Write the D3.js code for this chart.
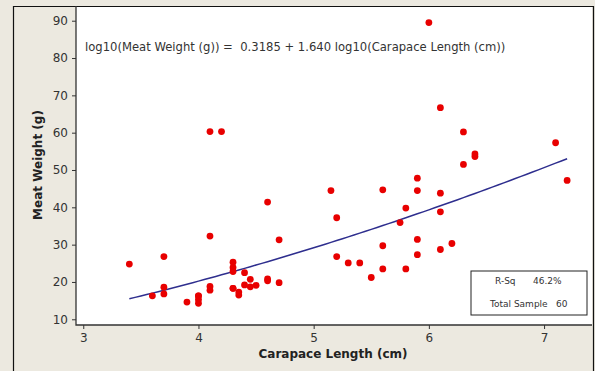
<!DOCTYPE html>
<head>
  <meta charset="utf-8">
  <script src="https://d3js.org/d3.v7.min.js"></script>
  <style>
    body { margin:0; background:#fff; }
    svg { display:block; }
    text { font-family: "DejaVu Sans", sans-serif; }
  </style>
</head>
<body>
<div id="chart"></div>
<script>

// carapace length (cm) and meat weight (g)
var lengths = [3.4, 3.6, 3.7, 3.7, 3.7, 3.9, 4.0, 4.0, 4.0, 4.1,
               4.1, 4.1, 4.1, 4.2, 4.3, 4.3, 4.3, 4.3, 4.35, 4.35,
               4.4, 4.4, 4.45, 4.45, 4.5, 4.6, 4.6, 4.6, 4.7, 4.7,
               5.15, 5.2, 5.2, 5.3, 5.4, 5.5, 5.6, 5.6, 5.6, 5.75,
               5.8, 5.8, 5.9, 5.9, 5.9, 5.9, 6.0, 6.1, 6.1, 6.1,
               6.1, 6.2, 6.3, 6.3, 6.4, 6.4, 7.1, 7.2, 4.0, 4.3];
var weights = [24.8, 16.3, 26.8, 18.6, 16.8, 14.6, 16.3, 15.3, 14.3, 32.3,
               18.8, 17.8, 60.3, 60.3, 25.3, 23.9, 22.8, 18.3, 17.3, 16.5,
               22.5, 19.2, 20.7, 18.7, 19.1, 20.8, 20.3, 41.4, 31.3, 19.8,
               44.5, 37.2, 26.8, 25.1, 25.1, 21.2, 44.7, 29.7, 23.5, 35.9,
               39.8, 23.5, 47.8, 44.5, 31.4, 27.3, 89.5, 66.7, 43.8, 38.8,
               28.7, 30.3, 60.2, 51.5, 54.3, 53.6, 57.3, 47.2, 16.3, 18.3];

var xTicks = [3, 4, 5, 6, 7];
var yTicks = [10, 20, 30, 40, 50, 60, 70, 80, 90];

// fitted model shown on the chart
var b0 = 0.3185, b1 = 1.640;
var fitRange = [3.4, 7.2];
var rsq = "46.2%";

var width = 595, height = 371;
var plot = {left: 76, top: 6, right: 592, bottom: 325};

var svg = d3.select("#chart").append("svg")
    .attr("width", width)
    .attr("height", height);

svg.append("rect").attr("width", width).attr("height", height).attr("fill", "#ece9e0");

var x = d3.scaleLinear().domain([2.937, 7.416]).range([plot.left, plot.right]);
var y = d3.scaleLinear().domain([8.47, 93.94]).range([plot.bottom, plot.top]);

svg.append("rect")
    .attr("x", plot.left).attr("y", plot.top)
    .attr("width", plot.right - plot.left).attr("height", plot.bottom - plot.top)
    .attr("fill", "#fff");

// outer frame
svg.append("path")
    .attr("d", "M13.5," + height + "V6.5H593.5V" + height)
    .attr("fill", "none").attr("stroke", "#111").attr("stroke-width", 1.2);

var xAxis = svg.append("g")
    .attr("transform", "translate(0," + plot.bottom + ")")
    .call(d3.axisBottom(x).tickValues(xTicks).tickFormat(d3.format("d"))
      .tickSize(4).tickPadding(4).tickSizeOuter(0));
var yAxis = svg.append("g")
    .attr("transform", "translate(" + plot.left + ",0)")
    .call(d3.axisLeft(y).tickValues(yTicks).tickSize(4).tickPadding(4).tickSizeOuter(0));

[xAxis, yAxis].forEach(function(a) {
  a.select(".domain").remove();
  a.selectAll("line").attr("stroke", "#333");
  a.selectAll("text").attr("fill", "#333").style("font-size", "12px")
    .style("font-family", "'DejaVu Sans', sans-serif");
});

// axis lines
svg.append("path")
    .attr("d", "M" + plot.left + "," + plot.top + "V" + plot.bottom + "H" + plot.right)
    .attr("fill", "none").attr("stroke", "#333").attr("stroke-width", 1.3);

// regression curve from the equation
var fitX = d3.range(fitRange[0], fitRange[1] + 0.001, 0.05);
var line = d3.line()
    .x(function(d) { return x(d); })
    .y(function(d) { return y(Math.pow(10, b0 + b1 * Math.log10(d))); });
svg.append("path")
    .datum(fitX)
    .attr("d", line)
    .attr("fill", "none")
    .attr("stroke", "#2e2e8e")
    .attr("stroke-width", 1.5);

svg.append("g").selectAll("circle")
    .data(lengths)
    .enter().append("circle")
    .attr("cx", function(d) { return x(d); })
    .attr("cy", function(d, i) { return y(weights[i]); })
    .attr("r", 3.4)
    .attr("fill", "#e80000");

svg.append("text")
    .attr("x", 85).attr("y", 51)
    .style("font-size", "11.6px").attr("fill", "#333")
    .attr("xml:space", "preserve")
    .text("log10(Meat Weight (g)) =  0.3185 + 1.640 log10(Carapace Length (cm))");

// axis titles
svg.append("text")
    .attr("x", 333).attr("y", 358)
    .attr("text-anchor", "middle")
    .style("font-size", "12px").style("font-weight", "bold").attr("fill", "#222")
    .text("Carapace Length (cm)");
svg.append("text")
    .attr("transform", "translate(42,165) rotate(-90)")
    .attr("text-anchor", "middle")
    .style("font-size", "12px").style("font-weight", "bold").attr("fill", "#222")
    .text("Meat Weight (g)");

// summary box
svg.append("rect")
    .attr("x", 471).attr("y", 271).attr("width", 116).attr("height", 44)
    .attr("fill", "#fff").attr("stroke", "#222").attr("stroke-width", 1);
svg.append("text").attr("x", 495).attr("y", 284).style("font-size", "9px").attr("fill", "#333").text("R-Sq");
svg.append("text").attr("x", 533).attr("y", 284).style("font-size", "9px").attr("fill", "#333").text(rsq);
svg.append("text").attr("x", 490).attr("y", 307).style("font-size", "9px").attr("fill", "#333").text("Total Sample");
svg.append("text").attr("x", 556).attr("y", 307).style("font-size", "9px").attr("fill", "#333").text(lengths.length);

</script>
</body>
